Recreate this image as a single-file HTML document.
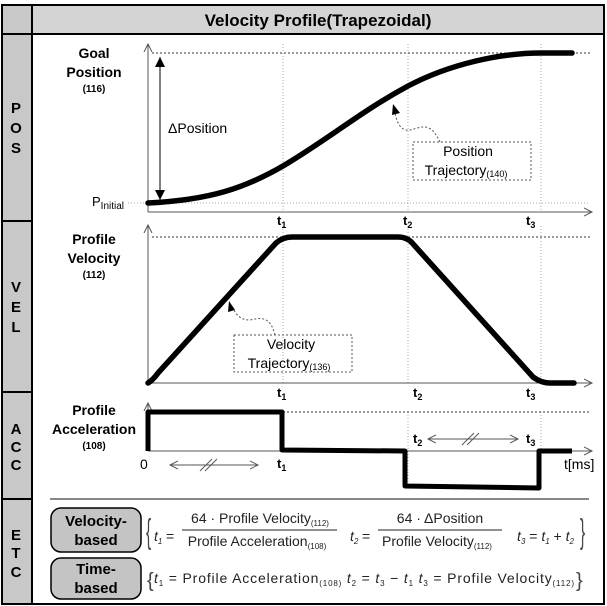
<!DOCTYPE html>
<html><head><meta charset="utf-8"><style>
html,body{margin:0;padding:0;background:#fff;}
svg{display:block;font-family:"Liberation Sans",sans-serif;}
.b{font-weight:bold;}
</style></head><body>
<svg width="607" height="606" viewBox="0 0 607 606" xmlns="http://www.w3.org/2000/svg">
<defs>
<marker id="ah" markerWidth="10" markerHeight="10" refX="8" refY="5" orient="auto" markerUnits="userSpaceOnUse"><path d="M0,1 L8,5 L0,9" fill="none" stroke="#555" stroke-width="1"/></marker>
<marker id="fa" markerWidth="12" markerHeight="12" refX="10" refY="6" orient="auto" markerUnits="userSpaceOnUse"><path d="M0,1 L10,6 L0,11 Z" fill="#000"/></marker>
</defs>
<rect x="2" y="5" width="30" height="599" fill="#c8c8c8"/>
<rect x="32" y="5" width="572" height="29" fill="#d4d4d4"/>
<rect x="2" y="5" width="602" height="599" fill="none" stroke="#000" stroke-width="2"/>
<line x1="32" y1="5" x2="32" y2="604" stroke="#000" stroke-width="2"/>
<line x1="2" y1="34" x2="604" y2="34" stroke="#000" stroke-width="2"/>
<line x1="2" y1="221" x2="32" y2="221" stroke="#000" stroke-width="2"/>
<line x1="2" y1="392" x2="32" y2="392" stroke="#000" stroke-width="2"/>
<line x1="2" y1="499" x2="32" y2="499" stroke="#000" stroke-width="2"/>
<text x="318" y="26" class="b" font-size="17" text-anchor="middle">Velocity Profile(Trapezoidal)</text>
<g class="b" font-size="15" text-anchor="middle">
<text x="16" y="113">P</text><text x="16" y="133">O</text><text x="16" y="153">S</text>
<text x="16" y="292">V</text><text x="16" y="312">E</text><text x="16" y="332">L</text>
<text x="16" y="434">A</text><text x="16" y="452">C</text><text x="16" y="470">C</text>
<text x="16" y="540">E</text><text x="16" y="558">T</text><text x="16" y="577">C</text>
</g>
<g stroke="#aaa" stroke-width="1" stroke-dasharray="1,2">
<line x1="283" y1="44" x2="283" y2="212"/><line x1="408" y1="44" x2="408" y2="212"/><line x1="541" y1="44" x2="541" y2="212"/>
<line x1="283" y1="226" x2="283" y2="383"/><line x1="408" y1="226" x2="408" y2="383"/><line x1="541" y1="226" x2="541" y2="383"/>
<line x1="408" y1="412" x2="408" y2="486"/><line x1="541" y1="412" x2="541" y2="451"/>
<line x1="128" y1="203" x2="590" y2="203"/>
</g>
<g stroke="#333" stroke-width="1" stroke-dasharray="2,2">
<line x1="152" y1="53" x2="590" y2="53"/>
<line x1="152" y1="237" x2="590" y2="237"/>
<line x1="283" y1="412" x2="590" y2="412"/>
</g>
<g stroke="#555" stroke-width="1" fill="none">
<line x1="148" y1="212" x2="148" y2="44" marker-end="url(#ah)"/><line x1="148" y1="212" x2="592" y2="212" marker-end="url(#ah)"/>
<line x1="148" y1="383" x2="148" y2="225" marker-end="url(#ah)"/><line x1="148" y1="383" x2="592" y2="383" marker-end="url(#ah)"/>
<line x1="148" y1="451" x2="148" y2="403" marker-end="url(#ah)"/><line x1="148" y1="451" x2="592" y2="451" marker-end="url(#ah)"/>
</g>
<g stroke="#000" stroke-width="5.5" fill="none" stroke-linecap="round" stroke-linejoin="round">
<path d="M148,203 C210,200 245,188 283,166 C330,138 360,112 408,86 C450,64 500,53 541,53 L572,53"/>
<path d="M148,383 Q153,380 158,373 L276,243 Q283,237 292,237 L398,237 Q408,237 414,245 L533,377 Q541,383 550,383 L574,383"/>
<path d="M148,451 L148,412 L282,412 L282,450 L405,451 L405,486 L539,488 L539,451 L572,451" stroke-width="5" stroke-linecap="butt"/>
</g>
<line x1="160" y1="198" x2="160" y2="57" stroke="#000" stroke-width="1" marker-end="url(#fa)"/>
<line x1="160" y1="60" x2="160" y2="200" stroke="#000" stroke-width="1" marker-end="url(#fa)"/>
<g class="b" text-anchor="middle">
<text x="94" y="58" font-size="14">Goal</text><text x="94" y="77" font-size="14">Position</text><text x="94" y="92" font-size="10">(116)</text>
<text x="94" y="244" font-size="14">Profile</text><text x="94" y="263" font-size="14">Velocity</text><text x="94" y="278" font-size="10">(112)</text>
<text x="94" y="415" font-size="14">Profile</text><text x="94" y="434" font-size="14">Acceleration</text><text x="94" y="449" font-size="10">(108)</text>
</g>
<text x="168" y="133" font-size="14">ΔPosition</text>
<text x="92" y="206" font-size="13">P<tspan font-size="10" dy="3">Initial</tspan></text>
<g class="b" font-size="13">
<text x="277" y="225">t<tspan font-size="9" dy="3">1</tspan></text>
<text x="403" y="225">t<tspan font-size="9" dy="3">2</tspan></text>
<text x="526" y="225">t<tspan font-size="9" dy="3">3</tspan></text>
<text x="277" y="397">t<tspan font-size="9" dy="3">1</tspan></text>
<text x="413" y="397">t<tspan font-size="9" dy="3">2</tspan></text>
<text x="526" y="397">t<tspan font-size="9" dy="3">3</tspan></text>
<text x="277" y="468">t<tspan font-size="9" dy="3">1</tspan></text>
<text x="413" y="443">t<tspan font-size="9" dy="3">2</tspan></text>
<text x="526" y="443">t<tspan font-size="9" dy="3">3</tspan></text>
</g>
<text x="140" y="469" font-size="14">0</text>
<text x="564" y="469" font-size="14">t[ms]</text>
<g stroke="#555" stroke-width="1" fill="none">
<line x1="175" y1="465" x2="258" y2="465" marker-end="url(#ah)"/><line x1="258" y1="465" x2="170" y2="465" marker-end="url(#ah)"/>
<line x1="200" y1="471" x2="212" y2="459"/><line x1="205" y1="471" x2="217" y2="459"/>
<line x1="433" y1="439" x2="518" y2="439" marker-end="url(#ah)"/><line x1="518" y1="439" x2="428" y2="439" marker-end="url(#ah)"/>
<line x1="462" y1="445" x2="474" y2="433"/><line x1="467" y1="445" x2="479" y2="433"/>
</g>
<g stroke="#555" stroke-width="1" fill="none" stroke-dasharray="2,2">
<rect x="413" y="142" width="118" height="38"/>
<rect x="234" y="335" width="118" height="37"/>
<path d="M440,142 C430,120 420,128 410,130 C400,132 396,120 395,112"/>
<path d="M275,335 C270,315 260,318 250,320 C238,320 235,312 232,306"/>
</g>
<path d="M393,104 L400,113 L392,115 Z" fill="#000"/>
<path d="M229,301 L235,310 L228,312 Z" fill="#000"/>
<g font-size="14" text-anchor="middle">
<text x="468" y="156">Position</text><text x="466" y="175">Trajectory<tspan font-size="9" dy="2">(140)</tspan></text>
<text x="291" y="349">Velocity</text><text x="289" y="368">Trajectory<tspan font-size="9" dy="2">(136)</tspan></text>
</g>
<line x1="50" y1="499" x2="589" y2="499" stroke="#888" stroke-width="2"/>
<rect x="51" y="508" width="90" height="44" rx="10" fill="#c4c4c4" stroke="#000" stroke-width="1.5"/>
<rect x="51" y="558" width="90" height="41" rx="10" fill="#c4c4c4" stroke="#000" stroke-width="1.5"/>
<g class="b" font-size="15" text-anchor="middle">
<text x="96" y="526">Velocity-</text><text x="96" y="545">based</text>
<text x="96" y="574">Time-</text><text x="96" y="593">based</text>
</g>
<g font-size="14" fill="#222">
<text x="146" y="543" font-size="34" fill="#444" transform="translate(146,543) scale(0.45,1) translate(-146,-543)">{</text>
<text x="154" y="541" font-style="italic">t<tspan font-size="8" dy="3">1</tspan></text>
<text x="166" y="541">=</text>
<text x="260" y="523" text-anchor="middle">64 · Profile Velocity<tspan font-size="8" dy="3">(112)</tspan></text>
<line x1="182" y1="530" x2="337" y2="530" stroke="#222" stroke-width="1"/>
<text x="257" y="546" text-anchor="middle">Profile Acceleration<tspan font-size="8" dy="3">(108)</tspan></text>
<text x="350" y="541" font-style="italic">t<tspan font-size="8" dy="3">2</tspan></text>
<text x="362" y="541">=</text>
<text x="440" y="523" text-anchor="middle">64 · ΔPosition</text>
<line x1="378" y1="530" x2="502" y2="530" stroke="#222" stroke-width="1"/>
<text x="437" y="546" text-anchor="middle">Profile Velocity<tspan font-size="8" dy="3">(112)</tspan></text>
<text x="517" y="541" font-style="italic">t<tspan font-size="8" dy="3">3</tspan><tspan dy="-3" font-style="normal"> = </tspan>t<tspan font-size="8" dy="3">1</tspan><tspan dy="-3" font-style="normal"> + </tspan>t<tspan font-size="8" dy="3">2</tspan></text>
<text x="580" y="543" font-size="34" fill="#444" transform="translate(580,543) scale(0.45,1) translate(-580,-543)">}</text>
<text x="147" y="587" font-size="20" fill="#444">{</text>
<text x="154" y="583" textLength="420" lengthAdjust="spacing"><tspan font-style="italic">t</tspan><tspan font-size="8" dy="3">1</tspan><tspan dy="-3"> = Profile  Acceleration</tspan><tspan font-size="8" dy="3">(108)</tspan><tspan dy="-3" font-style="italic">   t</tspan><tspan font-size="8" dy="3">2</tspan><tspan dy="-3"> = </tspan><tspan font-style="italic">t</tspan><tspan font-size="8" dy="3">3</tspan><tspan dy="-3"> − </tspan><tspan font-style="italic">t</tspan><tspan font-size="8" dy="3">1</tspan><tspan dy="-3" font-style="italic">    t</tspan><tspan font-size="8" dy="3">3</tspan><tspan dy="-3"> = Profile Velocity</tspan><tspan font-size="8" dy="3">(112)</tspan></text>
<text x="576" y="587" font-size="20" fill="#444">}</text>
</g>
</svg>
</body></html>
